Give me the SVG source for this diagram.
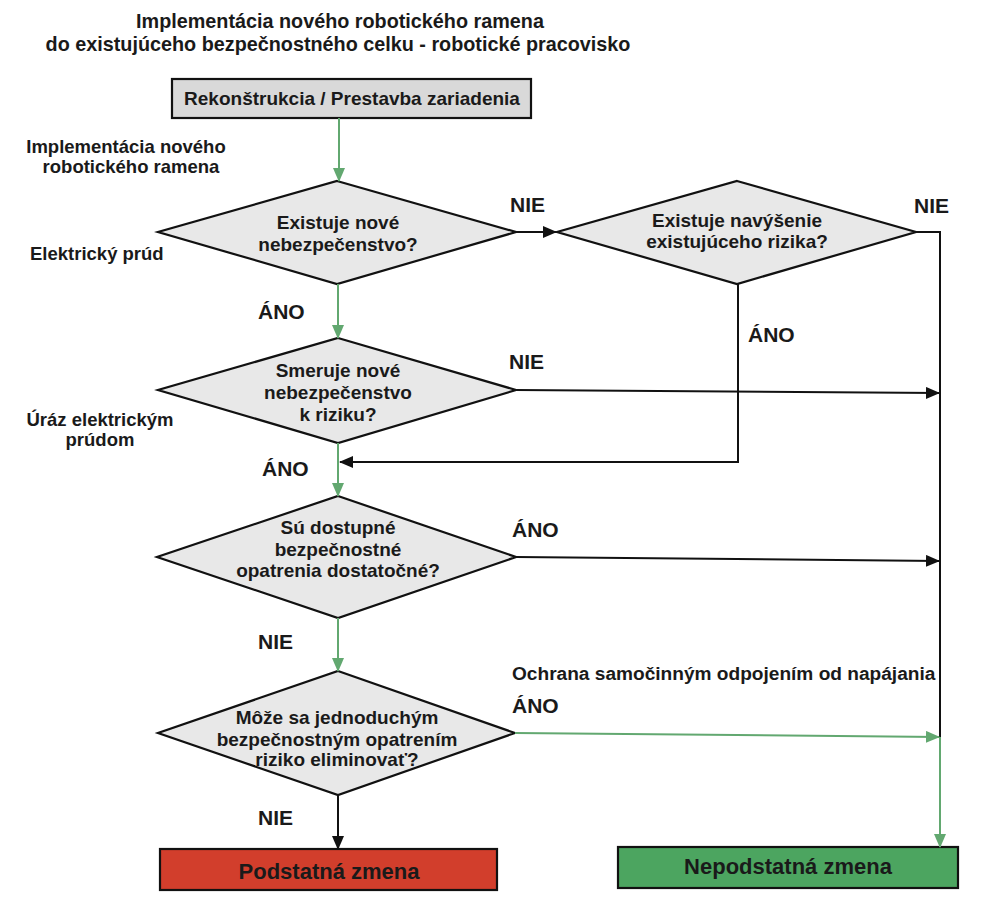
<svg xmlns="http://www.w3.org/2000/svg" width="1000" height="914" viewBox="0 0 1000 914">
<defs>
<style>
text{font-family:"Liberation Sans",Arial,sans-serif;font-weight:bold;fill:#1a1a1a}
.t{font-size:19.8px;text-anchor:middle}
.d{font-size:19px;text-anchor:middle}
.l{font-size:18.5px}
.o{font-size:19.1px}
.c{text-anchor:middle}
.lab{font-size:21px}
.dia{fill:#e8e8e8;stroke:#111;stroke-width:2.2}
.k{stroke:#111;stroke-width:2;fill:none}
.g{stroke:#62a870;stroke-width:2;fill:none}
.big{font-size:22px;text-anchor:middle}
</style>
<marker id="ak" markerWidth="14" markerHeight="12" refX="13" refY="6" orient="auto" markerUnits="userSpaceOnUse"><path d="M0,0 L14,6 L0,12 Z" fill="#111"/></marker>
<marker id="ag" markerWidth="14" markerHeight="12" refX="13" refY="6" orient="auto" markerUnits="userSpaceOnUse"><path d="M0,0 L14,6 L0,12 Z" fill="#62a870"/></marker>
</defs>
<rect width="1000" height="914" fill="#ffffff"/>
<g id="title">
<text class="t" x="340" y="28">Implementácia nového robotického ramena</text>
<text class="t" x="338" y="51">do existujúceho bezpečnostného celku - robotické pracovisko</text>
</g>
<g id="start">
<rect x="172" y="79" width="359" height="39" fill="#d9d9d9" stroke="#111" stroke-width="2.2"/>
<text class="d" x="352" y="105">Rekonštrukcia / Prestavba zariadenia</text>
</g>
<g id="notes">
<text class="l c" x="126" y="153">Implementácia nového</text>
<text class="l c" x="131" y="173">robotického ramena</text>
<text class="l" x="30" y="260">Elektrický prúd</text>
<text class="l c" x="100" y="426">Úráz elektrickým</text>
<text class="l c" x="100" y="446">prúdom</text>
<text class="o" x="512" y="680">Ochrana samočinným odpojením od napájania</text>
</g>
<g id="q1">
<polygon class="dia" points="337,181 516,232 337,284 158,232"/>
<text class="d" x="338" y="229">Existuje nové</text>
<text class="d" x="338" y="251">nebezpečenstvo?</text>
</g>
<g id="q2">
<polygon class="dia" points="737,181 916,232 737,284 557,232"/>
<text class="d" x="737" y="227">Existuje navýšenie</text>
<text class="d" x="737" y="248">existujúceho rizika?</text>
</g>
<g id="q3">
<polygon class="dia" points="338,338 516,390 338,443 158,390"/>
<text class="d" x="338" y="377">Smeruje nové</text>
<text class="d" x="338" y="399">nebezpečenstvo</text>
<text class="d" x="338" y="421">k riziku?</text>
</g>
<g id="q4">
<polygon class="dia" points="338,496 516,557 338,618 157,557"/>
<text class="d" x="338" y="534">Sú dostupné</text>
<text class="d" x="338" y="556">bezpečnostné</text>
<text class="d" x="338" y="577">opatrenia dostatočné?</text>
</g>
<g id="q5">
<polygon class="dia" points="338,671 515,733 338,795 158,733"/>
<text class="d" x="337" y="724">Môže sa jednoduchým</text>
<text class="d" x="337" y="746">bezpečnostným opatrením</text>
<text class="d" x="337" y="766">riziko eliminovať?</text>
</g>
<g id="end-red">
<rect x="160" y="849" width="337" height="41" fill="#d23e2c" stroke="#111" stroke-width="2.2"/>
<text class="big" x="329" y="879">Podstatná zmena</text>
</g>
<g id="end-green">
<rect x="618" y="847" width="340" height="41" fill="#4ca560" stroke="#111" stroke-width="2.2"/>
<text class="big" x="788" y="874">Nepodstatná zmena</text>
</g>
<g id="connectors">
<line class="g" x1="339" y1="118" x2="339" y2="181" marker-end="url(#ag)"/>
<line class="k" x1="516" y1="232" x2="556" y2="232" marker-end="url(#ak)"/>
<polyline class="k" points="916,232 940,232 940,737"/>
<line class="g" x1="940" y1="737" x2="940" y2="847" marker-end="url(#ag)"/>
<line class="g" x1="338" y1="284" x2="338" y2="338" marker-end="url(#ag)"/>
<polyline class="k" points="738,284 738,462 340,462" marker-end="url(#ak)"/>
<line class="k" x1="516" y1="390" x2="939" y2="393" marker-end="url(#ak)"/>
<line class="g" x1="338" y1="443" x2="338" y2="496" marker-end="url(#ag)"/>
<line class="k" x1="516" y1="557" x2="939" y2="561" marker-end="url(#ak)"/>
<line class="g" x1="338" y1="618" x2="338" y2="671" marker-end="url(#ag)"/>
<line class="g" x1="515" y1="733" x2="939" y2="737" marker-end="url(#ag)"/>
<line class="k" x1="338" y1="795" x2="338" y2="849" marker-end="url(#ak)"/>
</g>
<g id="labels">
<text class="lab" x="510" y="212">NIE</text>
<text class="lab" x="914" y="213">NIE</text>
<text class="lab" x="748" y="342">ÁNO</text>
<text class="lab" x="258" y="319">ÁNO</text>
<text class="lab" x="509" y="369">NIE</text>
<text class="lab" x="262" y="476">ÁNO</text>
<text class="lab" x="512" y="537">ÁNO</text>
<text class="lab" x="258" y="649">NIE</text>
<text class="lab" x="512" y="713">ÁNO</text>
<text class="lab" x="258" y="825">NIE</text>
</g>
</svg>
